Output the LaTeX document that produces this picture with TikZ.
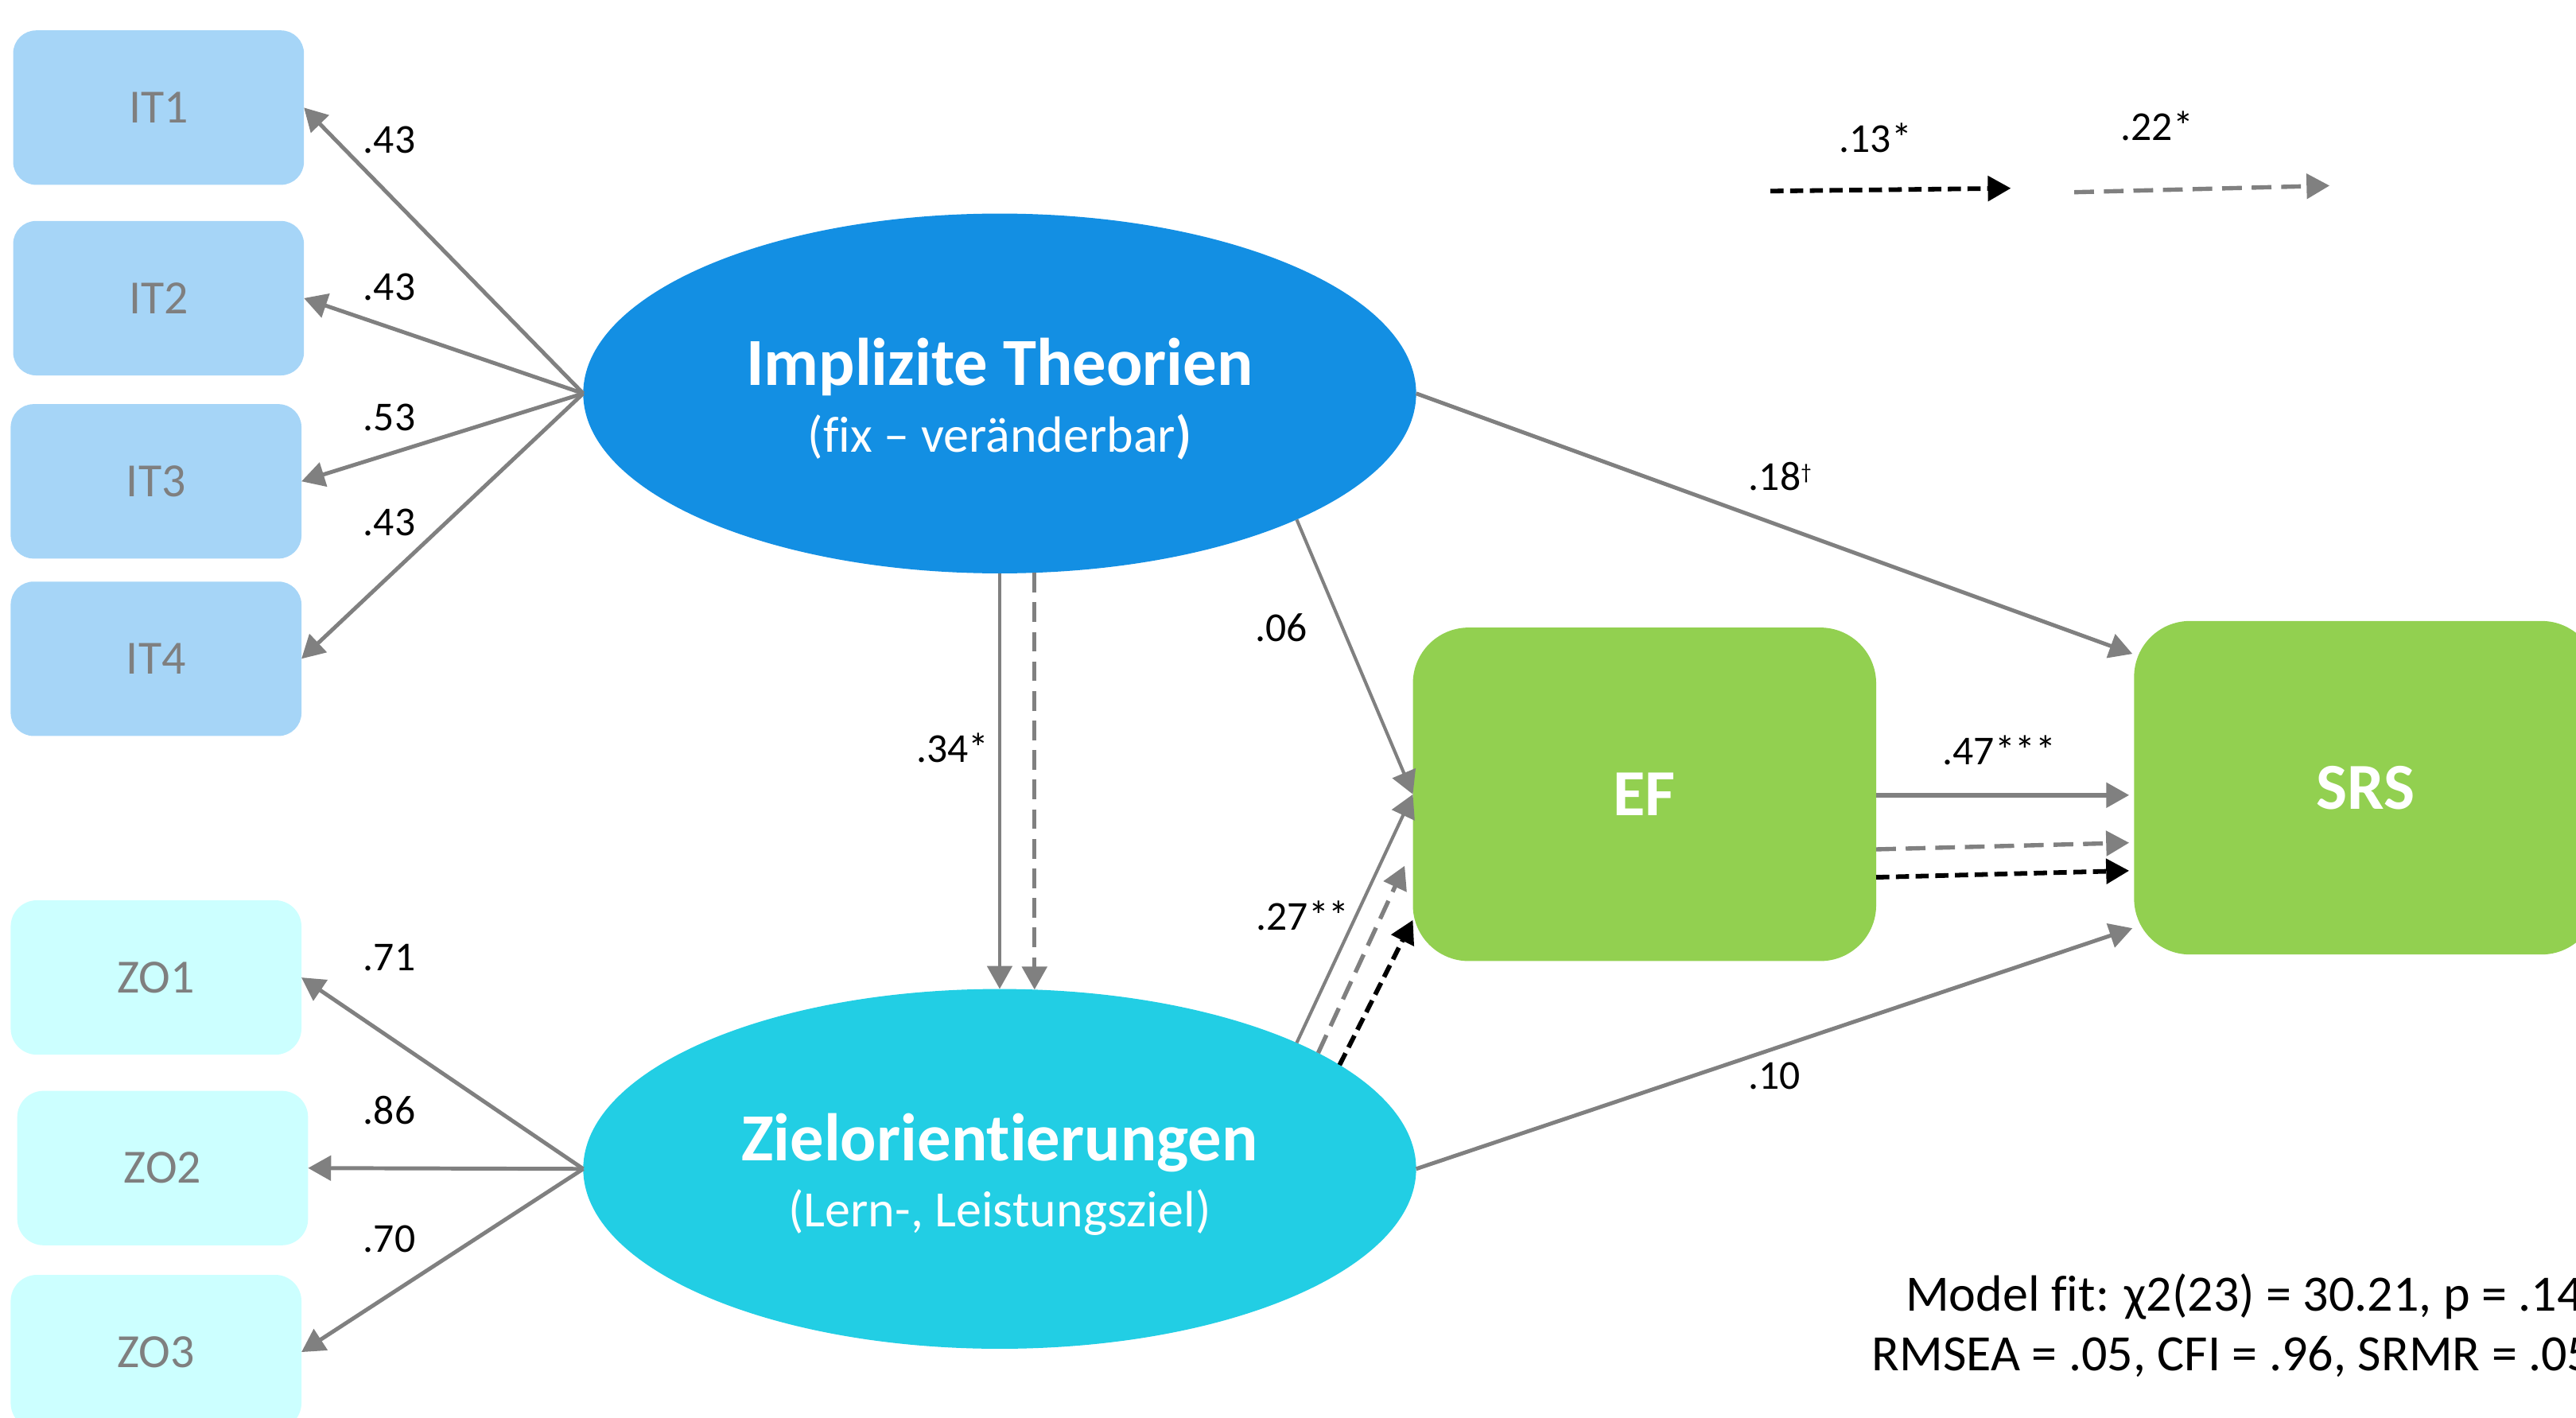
\documentclass[tikz,border=0pt]{standalone}
\usepackage{fontspec}
\setmainfont{Carlito}[Ligatures={NoCommon,NoRare}]
\usetikzlibrary{arrows.meta,shapes.geometric,calc}
\definecolor{itblue}{HTML}{138FE3}
\definecolor{zocyan}{HTML}{22CEE4}
\definecolor{itlight}{HTML}{A6D5F7}
\definecolor{zolight}{HTML}{CCFFFF}
\definecolor{outgreen}{HTML}{92D050}
\definecolor{linegray}{HTML}{808080}
\definecolor{boxtext}{HTML}{7F7F7F}

\begin{document}
\begin{tikzpicture}[x=1pt,y=-1pt,
  every node/.style={outer sep=0pt},
  indbox/.style={rectangle, rounded corners=14pt, minimum width=177pt, minimum height=94pt,
    inner sep=0pt, text=boxtext, font=\fontsize{29}{34}\selectfont},
  itbox/.style={indbox, fill=itlight},
  zobox/.style={indbox, fill=zolight, rounded corners=16pt},
  latent/.style={ellipse, minimum width=507pt, minimum height=219pt, inner sep=0pt},
  outcome/.style={rectangle, rounded corners=34pt, fill=outgreen, minimum width=282pt,
    minimum height=203pt, inner sep=0pt, text=white, font=\bfseries\fontsize{40}{48}\selectfont},
  titletext/.style={text=white, inner sep=0pt, font=\bfseries\fontsize{41}{48}\selectfont},
  subtext/.style={text=white, inner sep=0pt, font=\fontsize{31}{36}\selectfont},
  lbl/.style={inner sep=0pt, font=\fontsize{25}{30}\selectfont},
  >={Triangle[length=14pt,width=15pt]},
  conn/.style={draw=linegray, line width=2.4pt, ->},
  graydash/.style={conn, line width=2.6pt, dash pattern=on 12pt off 6pt},
  blackdash/.style={conn, draw=black, line width=2.8pt, dash pattern=on 8pt off 4pt}
]
\useasboundingbox (0,0) rectangle (1568,863);
\clip (0,0) rectangle (1568,863);

% indicator boxes
\node[itbox] (it1) at (96.5,65.5) {IT1};
\node[itbox] (it2) at (96.5,181.5) {IT2};
\node[itbox] (it3) at (95,293) {IT3};
\node[itbox] (it4) at (95,401) {IT4};
\node[zobox] (zo1) at (95,595) {ZO1};
\node[zobox] (zo2) at (99,711) {ZO2};
\node[zobox] (zo3) at (95,823) {ZO3};

% latent variables
\node[latent, fill=itblue] (it) at (608.5,239.5) {};
\node[titletext, anchor=base] (ittitle) at (608.5,234.7) {Implizite Theorien};
\node[subtext, anchor=base] (itsub) at (608.5,275) {(fix – veränderbar\textbf{)}};

\node[latent, fill=zocyan] (zo) at (608.5,711.5) {};
\node[titletext, anchor=base] (zotitle) at (608.5,706.5) {Zielorientierungen};
\node[subtext, anchor=base] (zosub) at (608.5,746.5) {(Lern-, Leistungsziel)};

% outcomes
\node[outcome] (ef) at (1001,483.5) {EF};
\node[outcome] (srs) at (1440,479.5) {SRS};

% loadings
\draw[conn] (it.west) -- (it1.east);
\draw[conn] (it.west) -- (it2.east);
\draw[conn] (it.west) -- (it3.east);
\draw[conn] (it.west) -- (it4.east);
\draw[conn] (zo.west) -- (zo1.east);
\draw[conn] (zo.west) -- (zo2.east);
\draw[conn] (zo.west) -- (zo3.east);

\node[lbl] (l1) at (237,85) {.43};
\node[lbl] (l2) at (237,174.6) {.43};
\node[lbl] (l3) at (237,254) {.53};
\node[lbl] (l4) at (237,318) {.43};
\node[lbl] (l5) at (237,583) {.71};
\node[lbl] (l6) at (237,676) {.86};
\node[lbl] (l7) at (237,754) {.70};

% structural paths
\draw[conn] (it.south) -- (zo.north);
\draw[graydash] (it.-79.4) -- (zo.79.4);
\node[lbl] (l34) at (580,455) {.34*};

\draw[conn, line width=2pt] (it.-23.2) -- (ef.west);
\node[lbl] (l06) at (780,382) {.06};

\draw[conn, line width=2pt] (zo.23.8) -- (ef.west);
\draw[graydash] (zo.20.9) -- ($(ef.west)+(-5,43.5)$);
\draw[blackdash] (zo.17.2) -- ($(ef.west)+(0,76.5)$);
\node[lbl] (l27) at (793,557.5) {.27**};

\draw[conn] (it.east) -- ($(srs.west)+(-1,-81.5)$);
\node[lbl, anchor=west] (l18) at (1064.5,290) {.18\raisebox{7pt}{\fontsize{13}{13}\selectfont †}};

\draw[conn] (zo.east) -- ($(srs.west)+(-1,85.5)$);
\node[lbl] (l10) at (1080,655) {.10};

\draw[conn, line width=2.6pt] ($(ef.east)+(0,0.5)$) -- ($(srs.west)+(-3,4.5)$);
\draw[graydash] ($(ef.east)+(0,33.5)$) -- ($(srs.west)+(-3,33.5)$);
\draw[blackdash] ($(ef.east)+(0,50.5)$) -- ($(srs.west)+(-3,50.5)$);
\node[lbl] (l47) at (1217,456.5) {.47***};

% legend for the dashed paths
\coordinate (ka) at (1077.6,116.3);
\coordinate (kb) at (1224,114.6);
\coordinate (kc) at (1262.6,117);
\coordinate (kd) at (1418,113);
\draw[blackdash] (ka) -- (kb);
\draw[graydash] (kc) -- (kd);
\node[lbl] (l13) at (1141.6,84) {.13*};
\node[lbl] (l22) at (1313,76.5) {.22*};

% model fit
\node[anchor=base west, inner sep=0pt, font=\fontsize{31}{37}\selectfont] (fit1) at (1160,797.8)
  {Model fit: χ2(23) = 30.21, p = .14};
\node[anchor=base west, inner sep=0pt, font=\fontsize{31}{37}\selectfont] (fit2) at (1139.5,834.5)
  {RMSEA = .05, CFI = .96, SRMR = .05};
\end{tikzpicture}
\end{document}
